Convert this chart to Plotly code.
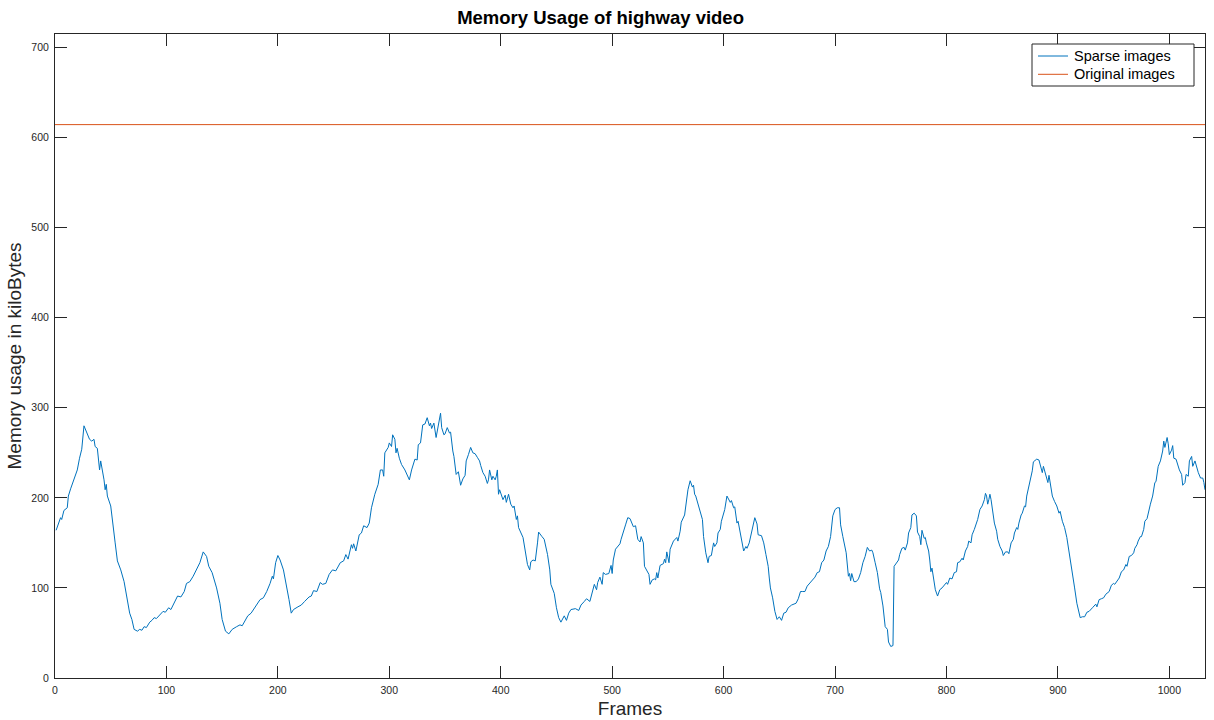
import plotly.graph_objects as go

# Frame index and memory usage (kB) of the sparse representation
frames = [
    1, 3, 5, 6, 8, 11, 12, 14, 17, 20, 22, 24, 26, 28, 31, 33, 35, 36, 38, 40, 41, 44, 45, 46, 47, 50,
    52, 54, 56, 59, 62, 65, 67, 69, 71, 74, 76, 78, 80, 82, 85, 87, 89, 91, 94, 97, 99, 102, 104, 107,
    110, 113, 116, 118, 121, 124, 127, 130, 133, 136, 138, 141, 145, 148, 150, 153, 156, 159, 163, 166,
    168, 170, 173,
    176, 179, 184, 187, 190, 193, 195, 196, 198, 200, 202, 205, 208, 210, 212, 214, 218, 221, 224, 228,
    230, 232, 235, 238, 240, 243, 246, 249, 252, 256, 259, 261, 263, 266, 267, 268, 270, 273, 275, 277,
    280, 282, 284, 287, 290, 292, 294, 295, 296, 299, 300, 302, 303, 305, 306, 307, 309, 311, 314, 316,
    318, 320, 323, 325, 326, 328, 330, 332, 334, 336, 337, 338, 340, 342, 344, 346,
    347, 349, 350, 352, 354, 355, 357, 358, 360, 362, 364, 366, 368, 369, 371, 373, 375, 377, 379, 381,
    382, 384, 386, 388, 389, 390, 392, 393, 395, 396, 397, 398, 399, 401, 402, 404, 405, 407, 409, 411,
    412, 414, 415, 416, 419, 420, 422, 424, 426, 427, 429, 431, 433, 434, 437, 439, 442, 444, 445, 448,
    450, 452, 454, 457, 459, 461, 463, 467, 470, 472, 475, 477, 480, 482, 484, 486, 487, 489, 491, 492,
    494, 497, 499, 500, 501, 503, 505, 507, 508, 510, 512, 514, 516, 519, 521, 523, 525,
    526, 528, 529, 532, 533, 534, 536, 538, 539, 540, 541, 543, 544, 546, 547, 548, 549, 551, 552, 555,
    558, 559, 561, 562, 565, 567, 568, 570, 572, 573, 574, 575, 577, 579, 581, 582, 584, 586, 587, 589,
    591, 592, 594, 595, 597, 598, 600, 601, 603, 605, 606, 607, 609, 610, 612, 613, 615, 616, 618, 620,
    621, 623, 625, 628, 630, 631, 634, 636, 638, 640, 641, 642, 644, 646, 648, 650, 652, 654, 656, 658,
    661, 663, 665, 667, 669, 671, 673, 675, 677, 680, 682, 684, 686, 688, 690, 692, 694, 696, 697, 698,
    700,
    702, 704, 705, 707, 710, 712, 713, 714, 715, 717, 719, 721, 723, 725, 727, 729, 731, 733, 734, 736,
    738, 740, 741, 743, 745, 747, 748, 750, 752, 753, 755, 757, 758, 760, 762, 763, 765, 766, 768, 769,
    771, 773, 774, 776, 777, 778, 780, 781, 782, 784, 785, 786, 787, 789, 790, 792, 794, 796, 798, 800,
    801, 803, 805, 807, 809, 810, 812, 814, 815, 817, 819, 820, 822, 823, 825, 826, 828, 830, 832, 834,
    835, 836, 837, 838, 839, 840, 842, 843, 845, 846, 848, 850, 851, 853, 855, 856, 858, 860, 861, 863,
    864, 865, 867, 868, 870, 871, 872, 874, 875,
    877, 878, 881, 883, 884, 886, 887, 888, 889, 891, 892, 894, 895, 897, 899, 901, 902, 904, 906, 908,
    910, 911, 913, 915, 917, 920, 922, 924, 926, 928, 931, 933, 934, 935, 937, 939, 941, 943, 945, 946,
    948, 950, 951, 953, 955, 957, 959, 961, 962, 964, 966, 968, 969, 971, 972, 974, 975, 977, 978, 980,
    981, 982, 983, 985, 987, 988, 990, 992, 994, 995, 996, 998, 999, 1000, 1002, 1003, 1004, 1006, 1008,
    1009, 1011, 1012, 1014, 1015, 1017, 1018, 1020, 1021, 1023, 1025, 1026, 1028, 1030, 1031, 1032,
]

sparse_kb = [
    164, 171, 178, 176, 186, 189, 202, 210, 220, 231, 244, 254, 280, 274, 265, 263, 265, 257, 255, 231,
    241, 220, 209, 215, 202, 191, 168, 150, 130, 120, 107, 87, 72, 65, 54, 52, 54, 53, 57, 56, 62, 64,
    67, 66, 70, 74, 73, 78, 76, 83, 91, 90, 96, 105, 107, 113, 120, 128, 140, 135, 124, 117, 100, 83,
    65, 52, 49, 54, 57, 59, 58, 62, 69,
    72, 78, 87, 89, 96, 105, 113, 110, 128, 136, 131, 120, 102, 87, 72, 76, 79, 81, 85, 90, 91, 97, 96,
    106, 104, 105, 115, 120, 119, 128, 130, 137, 132, 148, 144, 149, 141, 159, 161, 169, 167, 172, 189,
    204, 215, 231, 231, 224, 250, 256, 261, 257, 270, 265, 250, 255, 244, 237, 231, 226, 220, 231, 243,
    242, 259, 261, 281, 282, 289, 280, 283, 277, 283, 267, 280, 294,
    278, 270, 271, 278, 272, 273, 252, 246, 226, 229, 214, 221, 225, 241, 248, 256, 250, 249, 245, 241,
    236, 228, 224, 216, 220, 231, 220, 224, 220, 224, 231, 204, 209, 202, 198, 203, 195, 204, 193, 189,
    191, 176, 180, 167, 159, 156, 141, 126, 120, 129, 131, 130, 150, 162, 157, 154, 137, 120, 104, 94,
    78, 67, 62, 69, 64, 72, 76, 77, 75, 81, 85, 88, 85, 94, 104, 98, 106, 112, 104, 117, 115, 116, 125,
    116, 131, 143, 146, 149, 154, 161, 170, 178, 177, 168, 169, 154, 151,
    157, 150, 124, 117, 115, 104, 109, 110, 109, 117, 111, 125, 126, 127, 132, 128, 140, 128, 143, 152,
    156, 152, 163, 173, 181, 198, 209, 219, 212, 214, 204, 202, 194, 185, 176, 157, 139, 128, 135, 136,
    150, 146, 150, 161, 165, 174, 183, 187, 202, 198, 195, 197, 189, 190, 172, 174, 161, 155, 141, 146,
    144, 150, 161, 178, 171, 159, 158, 150, 137, 124, 111, 100, 89, 74, 65, 68, 64, 72, 73, 78, 81, 82,
    83, 88, 96, 96, 96, 102, 105, 109, 112, 117, 118, 128, 131, 141, 146, 157, 170, 180, 187,
    189, 189, 170, 157, 139, 113, 116, 108, 116, 107, 107, 110, 117, 128, 135, 145, 141, 142, 139, 128,
    117, 99, 95, 80, 57, 54, 40, 35, 36, 124, 127, 131, 137, 144, 145, 142, 150, 161, 167, 181, 183,
    180, 162, 157, 148, 164, 155, 156, 150, 141, 131, 118, 122, 107, 98, 91, 98, 100, 103, 106, 104,
    111, 110, 117, 118, 128, 129, 133, 131, 141, 146, 152, 150, 159, 165, 168, 176, 187, 191, 198, 205,
    202, 193, 198, 204, 198, 181, 172, 163, 154, 146, 141, 136, 140, 140, 138, 150, 154, 161, 167, 165,
    172, 181, 183, 191, 190, 202, 212, 218,
    230, 240, 243, 242, 237, 228, 235, 230, 226, 217, 225, 211, 202, 196, 191, 183, 185, 174, 167, 156,
    141, 134, 117, 100, 83, 67, 68, 68, 73, 74, 78, 81, 82, 79, 87, 88, 89, 93, 95, 96, 103, 105, 104,
    107, 111, 118, 120, 126, 124, 135, 136, 139, 144, 148, 152, 157, 157, 165, 174, 177, 183, 186, 193,
    202, 217, 218, 235, 241, 252, 263, 256, 267, 260, 248, 253, 258, 244, 243, 235, 231, 226, 214, 217,
    226, 224, 241, 246, 235, 241, 230, 228, 222, 222, 217, 209,
]

# Uncompressed frame size (kB), constant over the video
original_kb = 614.4
x_range = [0, 1032]
y_range = [0, 715]
x_ticks = [0, 100, 200, 300, 400, 500, 600, 700, 800, 900, 1000]
y_ticks = [0, 100, 200, 300, 400, 500, 600, 700]

series_names = ["Sparse images", "Original images"]
series_colors = ["#0072BD", "#D95319"]

axis_col = "#262626"
font_family = "Liberation Sans, Arial, Helvetica, sans-serif"

W, H = 1214, 720
M_L, M_R, M_T, M_B = 55, 9, 34, 42
plot_w = W - M_L - M_R
plot_h = H - M_T - M_B


def px_to_paper(px, py):
    """Convert a page pixel position into paper coordinates."""
    return (px - M_L) / plot_w, 1 - (py - M_T) / plot_h


fig = go.Figure()
fig.add_trace(go.Scatter(
    x=frames, y=sparse_kb, mode="lines", name=series_names[0],
    line=dict(color=series_colors[0], width=1), showlegend=False,
))
fig.add_trace(go.Scatter(
    x=x_range, y=[original_kb, original_kb], mode="lines", name=series_names[1],
    line=dict(color=series_colors[1], width=1), showlegend=False,
))

axis_common = dict(
    showgrid=False, zeroline=False, showline=True, linecolor=axis_col, linewidth=1,
    mirror="ticks", ticks="inside", ticklen=12, tickwidth=1, tickcolor=axis_col,
    tickfont=dict(size=10.5, color=axis_col, family=font_family),
    automargin=False,
)

# Boxed legend in the upper-right corner of the axes
shapes = []
annotations = []
bx0, by0 = px_to_paper(1032, 44)
bx1, by1 = px_to_paper(1194, 86)
shapes.append(dict(
    type="rect", xref="paper", yref="paper", x0=bx0, x1=bx1, y0=by1, y1=by0,
    line=dict(color=axis_col, width=1), fillcolor="white", layer="above",
))
for i, (name, col) in enumerate(zip(series_names, series_colors)):
    row_y = 56 + 18.3 * i
    lx0, ly = px_to_paper(1038, row_y)
    lx1, _ = px_to_paper(1068, row_y)
    shapes.append(dict(
        type="line", xref="paper", yref="paper", x0=lx0, x1=lx1, y0=ly, y1=ly,
        line=dict(color=col, width=1), layer="above",
    ))
    tx, _ = px_to_paper(1072, row_y)
    annotations.append(dict(
        text=name, xref="paper", yref="paper", x=tx, y=ly, xanchor="left", yanchor="middle",
        showarrow=False, font=dict(size=14.5, color="black", family=font_family),
    ))

fig.update_layout(
    width=W, height=H,
    margin=dict(l=M_L, r=M_R, t=M_T, b=M_B),
    paper_bgcolor="white", plot_bgcolor="white",
    font=dict(family=font_family, color=axis_col),
    title=dict(
        text="<b>Memory Usage of highway video</b>",
        x=0.4744, xref="paper", xanchor="center",
        y=0.975, yref="container", yanchor="middle",
        font=dict(size=18.5, color="black", family=font_family),
    ),
    xaxis=dict(
        range=x_range, tickvals=x_ticks, ticklabelstandoff=2,
        title=dict(text="Frames", font=dict(size=19, color=axis_col), standoff=7),
        **axis_common,
    ),
    yaxis=dict(
        range=y_range, tickvals=y_ticks, ticklabelstandoff=3,
        title=dict(text="Memory usage in kiloBytes", font=dict(size=19, color=axis_col), standoff=4),
        **axis_common,
    ),
    shapes=shapes,
    annotations=annotations,
    showlegend=False,
)

fig.write_html("out.html")
